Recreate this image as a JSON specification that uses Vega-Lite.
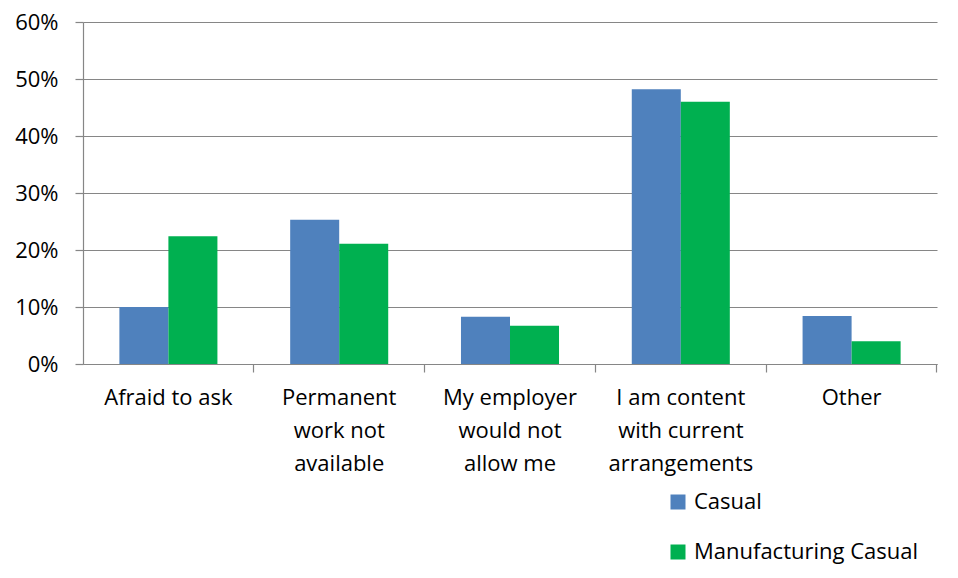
{
  "$schema": "https://vega.github.io/schema/vega-lite/v6.json",
  "width": 854,
  "height": 342,
  "autosize": {"type": "none"},
  "padding": {"left": 83, "top": 22, "right": 21, "bottom": 214},
  "background": "white",
  "config": {
    "font": "Open Sans",
    "view": {"stroke": null},
    "axis": {"labelColor": "#000000", "labelFont": "Open Sans", "domainColor": "#868686", "tickColor": "#868686", "gridColor": "#868686", "tickSize": 8, "domainWidth": 1.2, "tickWidth": 1.2, "gridWidth": 1.2}
  },
  "data": {
    "values": [
      {"reason": "Afraid to ask", "series": "Casual", "value": 0.100},
      {"reason": "Afraid to ask", "series": "Manufacturing Casual", "value": 0.224},
      {"reason": "Permanent work not available", "series": "Casual", "value": 0.253},
      {"reason": "Permanent work not available", "series": "Manufacturing Casual", "value": 0.211},
      {"reason": "My employer would not allow me", "series": "Casual", "value": 0.083},
      {"reason": "My employer would not allow me", "series": "Manufacturing Casual", "value": 0.067},
      {"reason": "I am content with current arrangements", "series": "Casual", "value": 0.482},
      {"reason": "I am content with current arrangements", "series": "Manufacturing Casual", "value": 0.460},
      {"reason": "Other", "series": "Casual", "value": 0.084},
      {"reason": "Other", "series": "Manufacturing Casual", "value": 0.040}
    ]
  },
  "mark": {"type": "bar"},
  "encoding": {
    "x": {
      "field": "reason",
      "type": "nominal",
      "sort": null,
      "scale": {"paddingInner": 0.426, "paddingOuter": 0.213},
      "axis": {
        "title": null,
        "labelAngle": 0,
        "bandPosition": 1.371,
        "labelExpr": "datum.label == 'Permanent work not available' ? ['Permanent', 'work not', 'available'] : datum.label == 'My employer would not allow me' ? ['My employer', 'would not', 'allow me'] : datum.label == 'I am content with current arrangements' ? ['I am content', 'with current', 'arrangements'] : datum.label",
        "labelFontSize": 22,
        "labelLineHeight": 33,
        "labelPadding": 15,
        "labelLimit": 0,
        "labelBaseline": "top"
      }
    },
    "y": {
      "field": "value",
      "type": "quantitative",
      "scale": {"domain": [0, 0.6]},
      "axis": {
        "title": null,
        "format": ".0%",
        "values": [0, 0.1, 0.2, 0.3, 0.4, 0.5, 0.6],
        "grid": true,
        "labelFontSize": 22,
        "labelPadding": 17
      }
    },
    "xOffset": {"field": "series", "type": "nominal", "sort": ["Casual", "Manufacturing Casual"]},
    "color": {
      "field": "series",
      "type": "nominal",
      "scale": {"domain": ["Casual", "Manufacturing Casual"], "range": ["#4F81BD", "#00B050"]},
      "legend": {
        "orient": "none",
        "legendX": 584,
        "legendY": 469,
        "title": null,
        "symbolType": "square",
        "symbolSize": 225,
        "symbolStrokeWidth": 0,
        "labelFontSize": 22,
        "labelColor": "#000000",
        "labelOffset": 5,
        "rowPadding": 28,
        "labelLimit": 0
      }
    }
  }
}
